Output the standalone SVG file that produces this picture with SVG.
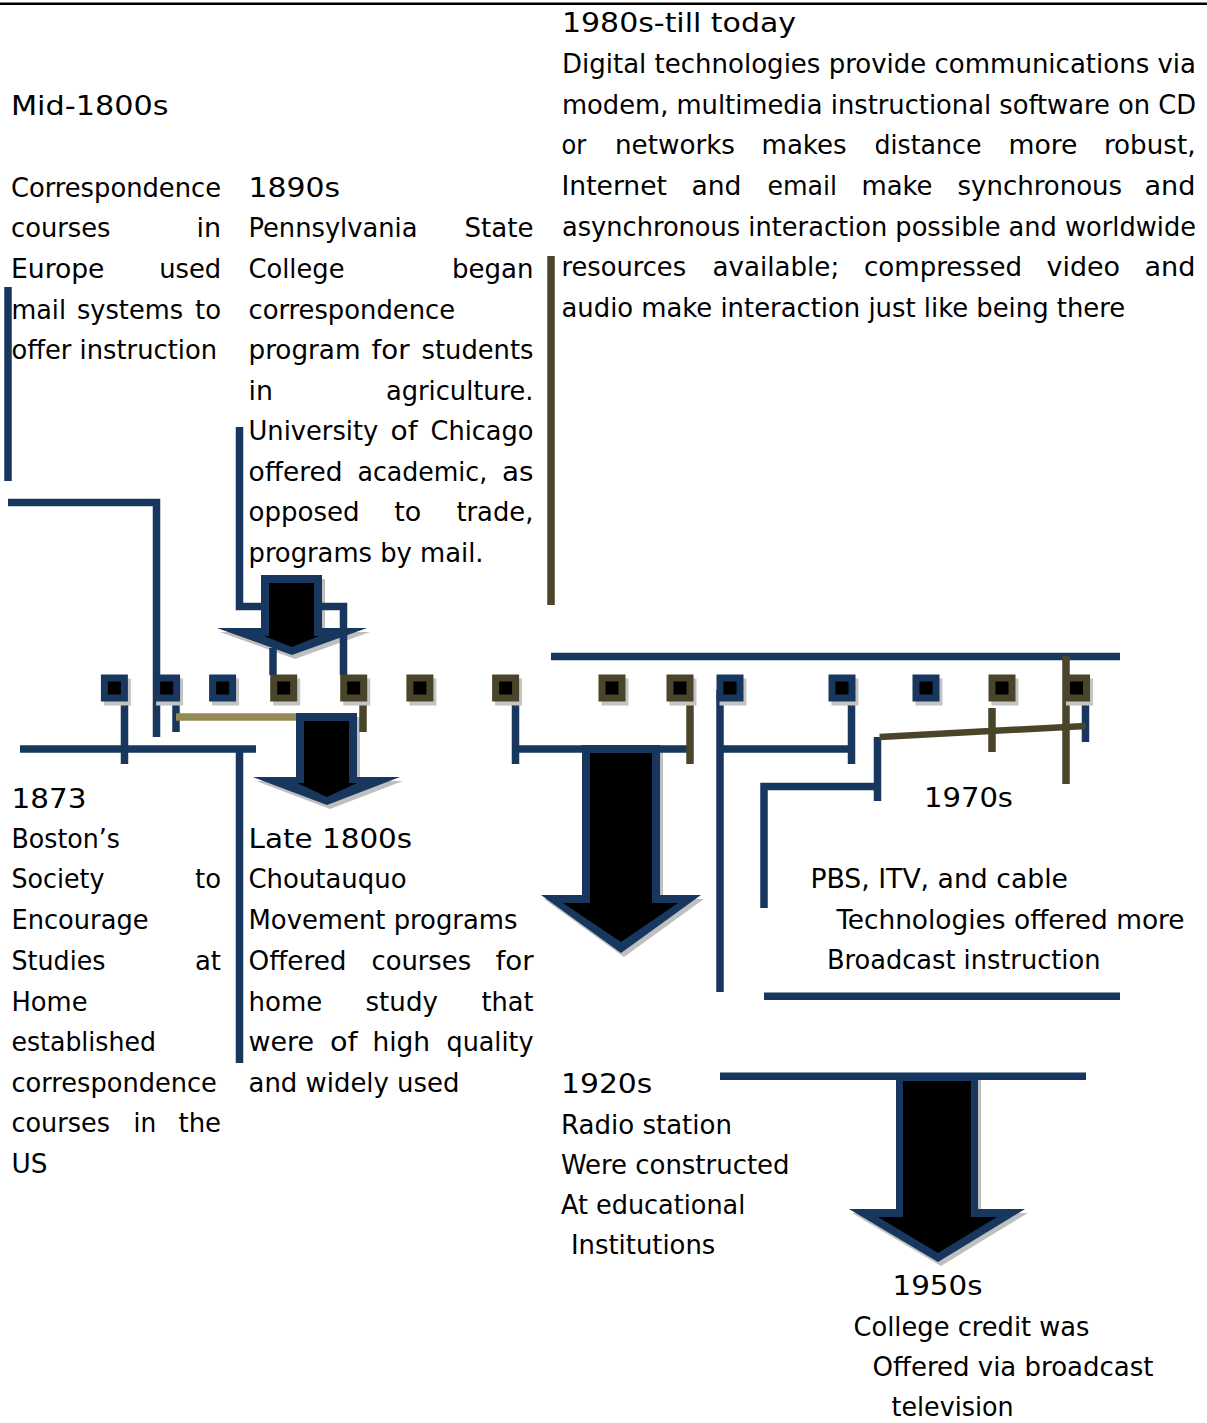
<svg xmlns="http://www.w3.org/2000/svg" xmlns:xlink="http://www.w3.org/1999/xlink" width="1207" height="1423" viewBox="0 0 1207 1423">
<style>
text{font-family:'DejaVu Sans Condensed','DejaVu Sans',sans-serif;font-size:27px;fill:#000}
.b{stroke:#17375E;stroke-width:7.5;fill:none;stroke-linecap:butt;stroke-linejoin:miter}
.o{stroke:#4A452A;stroke-width:7.5;fill:none;stroke-linecap:butt;stroke-linejoin:miter}
.tan{stroke:#948A54;stroke-width:7.5;fill:none}
.ao{fill:#17375E}
.ai{fill:#000}
.sh{fill:#BFBFBF}
</style>
<defs>
<g id="sqB"><rect x="-10.5" y="-9.5" width="27" height="27" fill="#C4C4C4"/><rect x="-13.5" y="-13.5" width="27" height="27" fill="#17375E"/><rect x="-6.5" y="-6.5" width="13" height="13" fill="#000"/></g>
<g id="sqO"><rect x="-10.5" y="-9.5" width="27" height="27" fill="#C4C4C4"/><rect x="-13.5" y="-13.5" width="27" height="27" fill="#4A452A"/><rect x="-6.5" y="-6.5" width="13" height="13" fill="#000"/></g>
</defs>
<rect x="0" y="2.5" width="1207" height="2.5" fill="#000"/>

<g id="arrows">
<polygon class="sh" transform="translate(3,4)" points="261,575 322,575 322,628 367,628 292,655 217,628 261,628"/>
<polygon class="ao" points="261,575 322,575 322,628 367,628 292,655 217,628 261,628"/>
<polygon class="ai" points="269,583 314,583 314,636 319,636 292,647 264,636 269,636"/>
<polygon class="sh" transform="translate(3,4)" points="296,713 357,713 357,777 400,777 327,805 253,777 296,777"/>
<polygon class="ao" points="296,713 357,713 357,777 400,777 327,805 253,777 296,777"/>
<polygon class="ai" points="304,721 349,721 349,783 357,783 327,797 297,783 304,783"/>
<polygon class="sh" transform="translate(3,4)" points="582,745 660,745 660,895 701,895 621,953 541,895 582,895"/>
<polygon class="ao" points="582,745 660,745 660,895 701,895 621,953 541,895 582,895"/>
<polygon class="ai" points="590,753 652,753 652,903 678,903 621,942 563,903 590,903"/>
<polygon class="sh" transform="translate(3,4)" points="896,1073 978,1073 978,1209 1025,1209 938,1262 849,1209 896,1209"/>
<polygon class="ao" points="896,1073 978,1073 978,1209 1025,1209 938,1262 849,1209 896,1209"/>
<polygon class="ai" points="903,1081 971,1081 971,1217 997,1217 938,1253 878,1217 903,1217"/>
</g>

<g id="connectors">
<polyline class="b" points="8,287 8,481"/>
<polyline class="b" points="8,502.5 156.5,502.5 156.5,737"/>
<polyline class="b" points="239.5,427 239.5,606.5 263,606.5"/>
<polyline class="b" points="321,606.5 343.5,606.5 343.5,675"/>
<polyline class="b" points="273,648 273,675"/>
<polyline class="b" points="124.5,702 124.5,764"/>
<polyline class="b" points="20,749 256,749"/>
<polyline class="b" points="239.5,749 239.5,1063"/>
<polyline class="b" points="176,702 176,732"/>
<polyline class="b" points="515.5,698 515.5,764"/>
<polyline class="b" points="515.5,749 690,749"/>
<polyline class="b" points="720,690 720,992"/>
<polyline class="b" points="720,749 852,749"/>
<polyline class="b" points="851.5,698 851.5,764"/>
<polyline class="b" points="551,656.5 1120,656.5"/>
<polyline class="b" points="764,908 764,786.5 877.5,786.5"/>
<polyline class="b" points="877.5,737 877.5,801"/>
<polyline class="b" points="1085.5,698 1085.5,742"/>
<polyline class="b" points="764,996.3 1120,996.3"/>
<polyline class="b" points="720,1076.3 1086,1076.3"/>
<polyline class="o" points="551,256 551,605"/>
<polyline class="o" points="363,698 363,732"/>
<polyline class="o" points="690,698 690,764"/>
<polyline class="o" style="stroke-width:6.5" points="879.6,737 1085.7,726"/>
<polyline class="o" points="992,708 992,752"/>
<polyline class="o" points="1066,656 1066,784"/>
<polyline class="tan" points="176,717 296,717"/>
</g>

<g id="timeline">
<use xlink:href="#sqB" x="114.4" y="688"/>
<use xlink:href="#sqB" x="166.6" y="688"/>
<use xlink:href="#sqB" x="222.6" y="688"/>
<use xlink:href="#sqO" x="283.7" y="688"/>
<use xlink:href="#sqO" x="353.7" y="688"/>
<use xlink:href="#sqO" x="419.9" y="688"/>
<use xlink:href="#sqO" x="505.6" y="688"/>
<use xlink:href="#sqO" x="612" y="688"/>
<use xlink:href="#sqO" x="680" y="688"/>
<use xlink:href="#sqB" x="730" y="688"/>
<use xlink:href="#sqB" x="842" y="688"/>
<use xlink:href="#sqB" x="926" y="688"/>
<use xlink:href="#sqO" x="1002" y="688"/>
<use xlink:href="#sqO" x="1076.5" y="688"/>
</g>

<g id="node-mid1800s" lengthAdjust="spacingAndGlyphs">
<text x="11" y="115" textLength="157.5" lengthAdjust="spacingAndGlyphs">Mid-1800s</text>
<text x="11" y="196.5" textLength="210" lengthAdjust="spacingAndGlyphs">Correspondence</text>
<text x="11" y="237" textLength="99.5" lengthAdjust="spacingAndGlyphs">courses</text>
<text x="196.5" y="237" textLength="24.6" lengthAdjust="spacingAndGlyphs">in</text>
<text x="11" y="277.7" textLength="93.4" lengthAdjust="spacingAndGlyphs">Europe</text>
<text x="159.2" y="277.7" textLength="62" lengthAdjust="spacingAndGlyphs">used</text>
<text x="11.5" y="318.5" textLength="54.5" lengthAdjust="spacingAndGlyphs">mail</text>
<text x="77" y="318.5" textLength="106" lengthAdjust="spacingAndGlyphs">systems</text>
<text x="195" y="318.5" textLength="26" lengthAdjust="spacingAndGlyphs">to</text>
<text x="11.5" y="359" textLength="205.5" lengthAdjust="spacingAndGlyphs">offer instruction</text>
</g>

<g id="node-1890s">
<text x="248.5" y="196.5" textLength="91.6" lengthAdjust="spacingAndGlyphs">1890s</text>
<text x="248.5" y="237" textLength="169" lengthAdjust="spacingAndGlyphs">Pennsylvania</text>
<text x="464.5" y="237" textLength="69" lengthAdjust="spacingAndGlyphs">State</text>
<text x="248.5" y="277.7" textLength="96" lengthAdjust="spacingAndGlyphs">College</text>
<text x="452" y="277.7" textLength="81.5" lengthAdjust="spacingAndGlyphs">began</text>
<text x="248.5" y="318.5" textLength="206.6" lengthAdjust="spacingAndGlyphs">correspondence</text>
<text x="248.5" y="359" textLength="112" lengthAdjust="spacingAndGlyphs">program</text>
<text x="371.5" y="359" textLength="38" lengthAdjust="spacingAndGlyphs">for</text>
<text x="421.5" y="359" textLength="112" lengthAdjust="spacingAndGlyphs">students</text>
<text x="248.5" y="399.5" textLength="24.4" lengthAdjust="spacingAndGlyphs">in</text>
<text x="386" y="399.5" textLength="147.5" lengthAdjust="spacingAndGlyphs">agriculture.</text>
<text x="248.5" y="440" textLength="129.8" lengthAdjust="spacingAndGlyphs">University</text>
<text x="390.5" y="440" textLength="27" lengthAdjust="spacingAndGlyphs">of</text>
<text x="430.5" y="440" textLength="103" lengthAdjust="spacingAndGlyphs">Chicago</text>
<text x="248.5" y="480.7" textLength="94" lengthAdjust="spacingAndGlyphs">offered</text>
<text x="357.5" y="480.7" textLength="129.7" lengthAdjust="spacingAndGlyphs">academic,</text>
<text x="502" y="480.7" textLength="31.5" lengthAdjust="spacingAndGlyphs">as</text>
<text x="248.5" y="521" textLength="111" lengthAdjust="spacingAndGlyphs">opposed</text>
<text x="394.2" y="521" textLength="27" lengthAdjust="spacingAndGlyphs">to</text>
<text x="456.4" y="521" textLength="77" lengthAdjust="spacingAndGlyphs">trade,</text>
<text x="248.5" y="561.5" textLength="235" lengthAdjust="spacingAndGlyphs">programs by mail.</text>
</g>

<g id="node-1980s">
<text x="562" y="32" textLength="234" lengthAdjust="spacingAndGlyphs">1980s-till today</text>
<text x="562" y="73" textLength="634" lengthAdjust="spacingAndGlyphs">Digital technologies provide communications via</text>
<text x="562" y="113.7" textLength="634" lengthAdjust="spacingAndGlyphs">modem, multimedia instructional software on CD</text>
<text x="561.5" y="154.4" textLength="24.7" lengthAdjust="spacingAndGlyphs">or</text>
<text x="615" y="154.4" textLength="120" lengthAdjust="spacingAndGlyphs">networks</text>
<text x="761.5" y="154.4" textLength="85" lengthAdjust="spacingAndGlyphs">makes</text>
<text x="874.5" y="154.4" textLength="107" lengthAdjust="spacingAndGlyphs">distance</text>
<text x="1008.5" y="154.4" textLength="69" lengthAdjust="spacingAndGlyphs">more</text>
<text x="1104" y="154.4" textLength="91.5" lengthAdjust="spacingAndGlyphs">robust,</text>
<text x="561.5" y="195" textLength="105.5" lengthAdjust="spacingAndGlyphs">Internet</text>
<text x="691.5" y="195" textLength="50" lengthAdjust="spacingAndGlyphs">and</text>
<text x="767.5" y="195" textLength="69.6" lengthAdjust="spacingAndGlyphs">email</text>
<text x="861.5" y="195" textLength="71" lengthAdjust="spacingAndGlyphs">make</text>
<text x="957.5" y="195" textLength="164.6" lengthAdjust="spacingAndGlyphs">synchronous</text>
<text x="1144.5" y="195" textLength="51" lengthAdjust="spacingAndGlyphs">and</text>
<text x="562" y="235.7" textLength="634" lengthAdjust="spacingAndGlyphs">asynchronous interaction possible and worldwide</text>
<text x="561.5" y="276.4" textLength="124.6" lengthAdjust="spacingAndGlyphs">resources</text>
<text x="712.5" y="276.4" textLength="126.7" lengthAdjust="spacingAndGlyphs">available;</text>
<text x="864" y="276.4" textLength="158" lengthAdjust="spacingAndGlyphs">compressed</text>
<text x="1046.5" y="276.4" textLength="73.5" lengthAdjust="spacingAndGlyphs">video</text>
<text x="1144.5" y="276.4" textLength="51" lengthAdjust="spacingAndGlyphs">and</text>
<text x="561.5" y="317" textLength="563.6" lengthAdjust="spacingAndGlyphs">audio make interaction just like being there</text>
</g>

<g id="node-1873">
<text x="11.5" y="807.7" textLength="75" lengthAdjust="spacingAndGlyphs">1873</text>
<text x="11.5" y="847.7" textLength="108.4" lengthAdjust="spacingAndGlyphs">Boston’s</text>
<text x="11.5" y="888.3" textLength="93" lengthAdjust="spacingAndGlyphs">Society</text>
<text x="195" y="888.3" textLength="26" lengthAdjust="spacingAndGlyphs">to</text>
<text x="11.5" y="929" textLength="137" lengthAdjust="spacingAndGlyphs">Encourage</text>
<text x="11.5" y="970" textLength="94" lengthAdjust="spacingAndGlyphs">Studies</text>
<text x="195" y="970" textLength="26" lengthAdjust="spacingAndGlyphs">at</text>
<text x="11.5" y="1010.5" textLength="76" lengthAdjust="spacingAndGlyphs">Home</text>
<text x="11.5" y="1051" textLength="144.4" lengthAdjust="spacingAndGlyphs">established</text>
<text x="11.5" y="1091.7" textLength="205.4" lengthAdjust="spacingAndGlyphs">correspondence</text>
<text x="11.5" y="1132.3" textLength="98.4" lengthAdjust="spacingAndGlyphs">courses</text>
<text x="133.5" y="1132.3" textLength="22.6" lengthAdjust="spacingAndGlyphs">in</text>
<text x="178.5" y="1132.3" textLength="42.6" lengthAdjust="spacingAndGlyphs">the</text>
<text x="11.5" y="1172.7" textLength="36" lengthAdjust="spacingAndGlyphs">US</text>
</g>

<g id="node-late1800s">
<text x="248.5" y="847.7" textLength="163.7" lengthAdjust="spacingAndGlyphs">Late 1800s</text>
<text x="248.5" y="888.3" textLength="158" lengthAdjust="spacingAndGlyphs">Choutauquo</text>
<text x="248.5" y="929" textLength="269" lengthAdjust="spacingAndGlyphs">Movement programs</text>
<text x="248.5" y="970" textLength="98" lengthAdjust="spacingAndGlyphs">Offered</text>
<text x="371.5" y="970" textLength="99.6" lengthAdjust="spacingAndGlyphs">courses</text>
<text x="495.5" y="970" textLength="38" lengthAdjust="spacingAndGlyphs">for</text>
<text x="248.5" y="1010.5" textLength="73.7" lengthAdjust="spacingAndGlyphs">home</text>
<text x="365.5" y="1010.5" textLength="72.4" lengthAdjust="spacingAndGlyphs">study</text>
<text x="481.5" y="1010.5" textLength="52" lengthAdjust="spacingAndGlyphs">that</text>
<text x="248.5" y="1051" textLength="65.5" lengthAdjust="spacingAndGlyphs">were</text>
<text x="330" y="1051" textLength="27.6" lengthAdjust="spacingAndGlyphs">of</text>
<text x="372.5" y="1051" textLength="57.6" lengthAdjust="spacingAndGlyphs">high</text>
<text x="446.5" y="1051" textLength="87" lengthAdjust="spacingAndGlyphs">quality</text>
<text x="248.5" y="1091.7" textLength="211" lengthAdjust="spacingAndGlyphs">and widely used</text>
</g>

<g id="node-1920s">
<text x="561" y="1093" textLength="91.3" lengthAdjust="spacingAndGlyphs">1920s</text>
<text x="561" y="1133.5" textLength="171" lengthAdjust="spacingAndGlyphs">Radio station</text>
<text x="561" y="1173.5" textLength="228.6" lengthAdjust="spacingAndGlyphs">Were constructed</text>
<text x="561" y="1213.5" textLength="184.3" lengthAdjust="spacingAndGlyphs">At educational</text>
<text x="571" y="1254" textLength="144.3" lengthAdjust="spacingAndGlyphs">Institutions</text>
</g>

<g id="node-1970s">
<text x="924" y="807" textLength="89" lengthAdjust="spacingAndGlyphs">1970s</text>
<text x="810.5" y="888.3" textLength="257.5" lengthAdjust="spacingAndGlyphs">PBS, ITV, and cable</text>
<text x="836.5" y="928.5" textLength="348" lengthAdjust="spacingAndGlyphs">Technologies offered more</text>
<text x="827" y="968.7" textLength="273.4" lengthAdjust="spacingAndGlyphs">Broadcast instruction</text>
</g>

<g id="node-1950s">
<text x="892.5" y="1295" textLength="90" lengthAdjust="spacingAndGlyphs">1950s</text>
<text x="853.5" y="1336" textLength="236" lengthAdjust="spacingAndGlyphs">College credit was</text>
<text x="872.5" y="1376" textLength="281" lengthAdjust="spacingAndGlyphs">Offered via broadcast</text>
<text x="891.5" y="1416" textLength="122" lengthAdjust="spacingAndGlyphs">television</text>
</g>
</svg>
